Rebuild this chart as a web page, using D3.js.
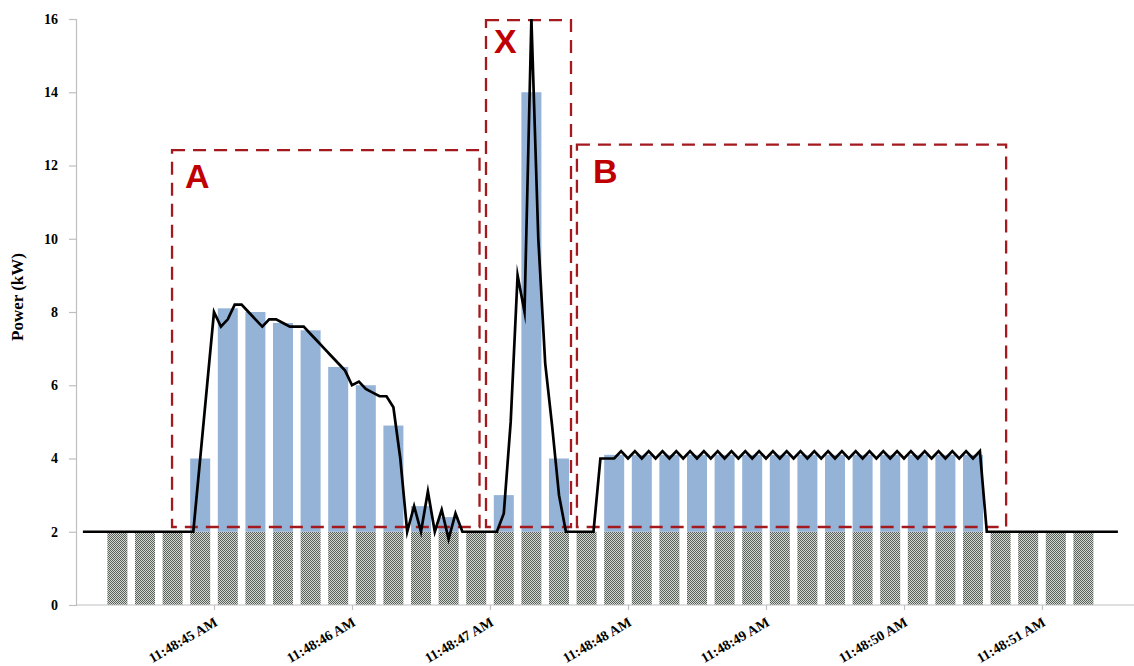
<!DOCTYPE html>
<html>
<head>
<meta charset="utf-8">
<script src="https://cdn.jsdelivr.net/npm/d3@7"></script>
<style>
  html, body { margin: 0; padding: 0; background: #fff; }
  svg { display: block; }
</style>
</head>
<body>
<svg id="chart" width="1134" height="666"></svg>
<script>
// ---------------- DATA ----------------
// Bar categories: seconds past 11:48 (200 ms bins)
const barTimes = [44.3, 44.5, 44.7, 44.9, 45.1, 45.3, 45.5, 45.7, 45.9, 46.1,
                  46.3, 46.5, 46.7, 46.9, 47.1, 47.3, 47.5, 47.7, 47.9, 48.1,
                  48.3, 48.5, 48.7, 48.9, 49.1, 49.3, 49.5, 49.7, 49.9, 50.1,
                  50.3, 50.5, 50.7, 50.9, 51.1, 51.3];
// Base load (patterned) and total power (blue) per bin, kW
const baseValues = [2,2,2,2,2,2,2,2,2,2,2,2,2,2,2,2,2,2,2,2,2,2,2,2,2,2,2,2,2,2,2,2,2,2,2,2];
const totalValues = [2, 2, 2, 4, 8.1, 8.0, 7.7, 7.5, 6.5, 6.0,
                     4.9, 2.7, 2.4, 2, 3, 14, 4, 2, 4.1, 4.1,
                     4.1, 4.1, 4.1, 4.1, 4.1, 4.1, 4.1, 4.1, 4.1, 4.1,
                     4.1, 4.1, 2, 2, 2, 2];

// Fine-resolution measured line (50 ms samples starting at 44.05 s)
const lineStart = 44.05;
const lineStep = 0.05;
const lineValues = [
  2,2,2,2,2,2,2,2,2,2,2,2,2,2,2,2,
  2, 4, 6, 8, 7.6, 7.8, 8.2, 8.2, 8.0, 7.8,
  7.6, 7.8, 7.8, 7.7, 7.6, 7.6, 7.6, 7.4, 7.2, 7.0,
  6.8, 6.6, 6.4, 6.0, 6.1, 5.9, 5.8, 5.7, 5.7, 5.4,
  4.0, 2.0, 2.7, 2.0, 3.1, 2.0, 2.6, 1.8, 2.5, 2.0,
  2, 2, 2, 2, 2, 2.5, 5.0, 9.0, 8.0, 16,
  10, 6.6, 4.9, 3.0, 2, 2, 2, 2, 2, 4,
  4, 4,
  4.2,4,4.2,4,4.2,4,4.2,4,4.2,4,4.2,4,4.2,4,4.2,4,4.2,4,4.2,4,
  4.2,4,4.2,4,4.2,4,4.2,4,4.2,4,4.2,4,4.2,4,4.2,4,4.2,4,4.2,4,
  4.2,4,4.2,4,4.2,4,4.2,4,4.2,4,4.2,4,4.2,
  2,2,2,2,2,2,2,2,2,2,2,2,2,2,2,2,2,2,2,2
];

// Axis ticks
const xTickSeconds = [45, 46, 47, 48, 49, 50, 51];
const xTickLabels = ["11:48:45 AM", "11:48:46 AM", "11:48:47 AM", "11:48:48 AM",
                     "11:48:49 AM", "11:48:50 AM", "11:48:51 AM"];
const yTicks = [0, 2, 4, 6, 8, 10, 12, 14, 16];
const yTitle = "Power (kW)";

// Annotation regions (data units: seconds, kW)
const regionNames = ["A", "X", "B"];
const regionT0 = [44.696, 46.971, 47.63];
const regionT1 = [46.924, 47.587, 50.74];
const regionV0 = [2.13, 2.13, 2.13];
const regionV1 = [12.42, 15.97, 12.57];

// ---------------- LAYOUT ----------------
const svg = d3.select("#chart");
const plot = { left: 76, right: 1134, top: 19, bottom: 605 };
const labelOffset = { A: [13, 37.5], X: [8, 32.5], B: [16, 38.5] };
const serif = "'Liberation Serif', 'DejaVu Serif', serif";

const x = d3.scaleLinear().domain([44, 51.6667]).range([plot.left, plot.right]);
const y = d3.scaleLinear().domain([0, 16]).range([plot.bottom, plot.top]);
const barW = x(44.145) - x(44);

// pattern for base bars
const defs = svg.append("defs");
const pat = defs.append("pattern").attr("id", "chk")
  .attr("width", 2).attr("height", 2).attr("patternUnits", "userSpaceOnUse");
pat.append("rect").attr("width", 2).attr("height", 2).attr("fill", "#d4d9d4");
pat.append("rect").attr("x", 0).attr("y", 0).attr("width", 1).attr("height", 1).attr("fill", "#596059");
pat.append("rect").attr("x", 1).attr("y", 1).attr("width", 1).attr("height", 1).attr("fill", "#596059");

// ---------------- BARS ----------------
const barData = barTimes.map((t, i) => ({ t, base: baseValues[i], total: totalValues[i] }));

svg.append("g").selectAll("rect.base").data(barData).join("rect")
  .attr("class", "base")
  .attr("x", d => x(d.t) - barW / 2)
  .attr("width", barW)
  .attr("y", d => y(d.base))
  .attr("height", d => y(0) - y(d.base))
  .attr("fill", "url(#chk)");

svg.append("g").selectAll("rect.top").data(barData.filter(d => d.total > d.base)).join("rect")
  .attr("class", "top")
  .attr("x", d => x(d.t) - barW / 2)
  .attr("width", barW)
  .attr("y", d => y(d.total))
  .attr("height", d => y(d.base) - y(d.total))
  .attr("fill", "#95b3d7");

// ---------------- AXES ----------------
const yAxis = d3.axisLeft(y).tickValues(yTicks).tickSize(7).tickPadding(11).tickFormat(d3.format("d"));
const gy = svg.append("g").attr("transform", `translate(${plot.left},0)`).call(yAxis);
gy.select(".domain").attr("stroke", "#bfbfbf").attr("stroke-width", 1.2);
gy.selectAll(".tick line").attr("stroke", "#bfbfbf").attr("stroke-width", 1.2);
gy.selectAll(".tick text")
  .attr("font-family", serif)
  .attr("font-weight", "bold").attr("font-size", 14).attr("fill", "#000");

const xAxis = d3.axisBottom(x).tickValues(xTickSeconds).tickSize(5)
  .tickFormat((d, i) => xTickLabels[i]);
const gx = svg.append("g").attr("transform", `translate(0,${plot.bottom})`).call(xAxis);
gx.select(".domain").attr("stroke", "#bfbfbf").attr("stroke-width", 1.2).attr("d", `M${plot.left},0H${plot.right}`);
gx.selectAll(".tick line").attr("stroke", "#bfbfbf").attr("stroke-width", 1.2);
gx.selectAll(".tick text")
  .attr("font-family", serif)
  .attr("font-weight", "bold").attr("font-size", 14).attr("fill", "#000")
  .attr("text-anchor", "end")
  .attr("y", 0).attr("dy", 0)
  .attr("transform", "translate(4,20) rotate(-30)");

svg.append("text")
  .attr("transform", `translate(23,297) rotate(-90)`)
  .attr("text-anchor", "middle")
  .attr("font-family", serif)
  .attr("font-weight", "bold").attr("font-size", 17).attr("fill", "#000")
  .text(yTitle);

// ---------------- ANNOTATION BOXES ----------------
const regions = regionNames.map((n, i) => ({ n, t0: regionT0[i], t1: regionT1[i], v0: regionV0[i], v1: regionV1[i] }));
const gr = svg.append("g");
gr.selectAll("rect").data(regions).join("rect")
  .attr("x", d => x(d.t0)).attr("y", d => y(d.v1))
  .attr("width", d => x(d.t1) - x(d.t0))
  .attr("height", d => y(d.v0) - y(d.v1))
  .attr("fill", "none")
  .attr("stroke", "#a3191e").attr("stroke-width", 2.3)
  .attr("stroke-dasharray", "13,8");
gr.selectAll("text").data(regions).join("text")
  .attr("x", d => x(d.t0) + labelOffset[d.n][0])
  .attr("y", d => y(d.v1) + labelOffset[d.n][1])
  .attr("font-family", "'Liberation Sans', Arial, sans-serif")
  .attr("font-weight", "bold").attr("font-size", 34).attr("fill", "#c00000")
  .text(d => d.n);

// ---------------- LINE ----------------
const lineData = lineValues.map((v, i) => ({ t: lineStart + i * lineStep, v }));
svg.append("path").datum(lineData)
  .attr("fill", "none").attr("stroke", "#000").attr("stroke-width", 2.7)
  .attr("stroke-linejoin", "miter").attr("stroke-miterlimit", 10)
  .attr("d", d3.line().x(d => x(d.t)).y(d => y(d.v)));
</script>
</body>
</html>
